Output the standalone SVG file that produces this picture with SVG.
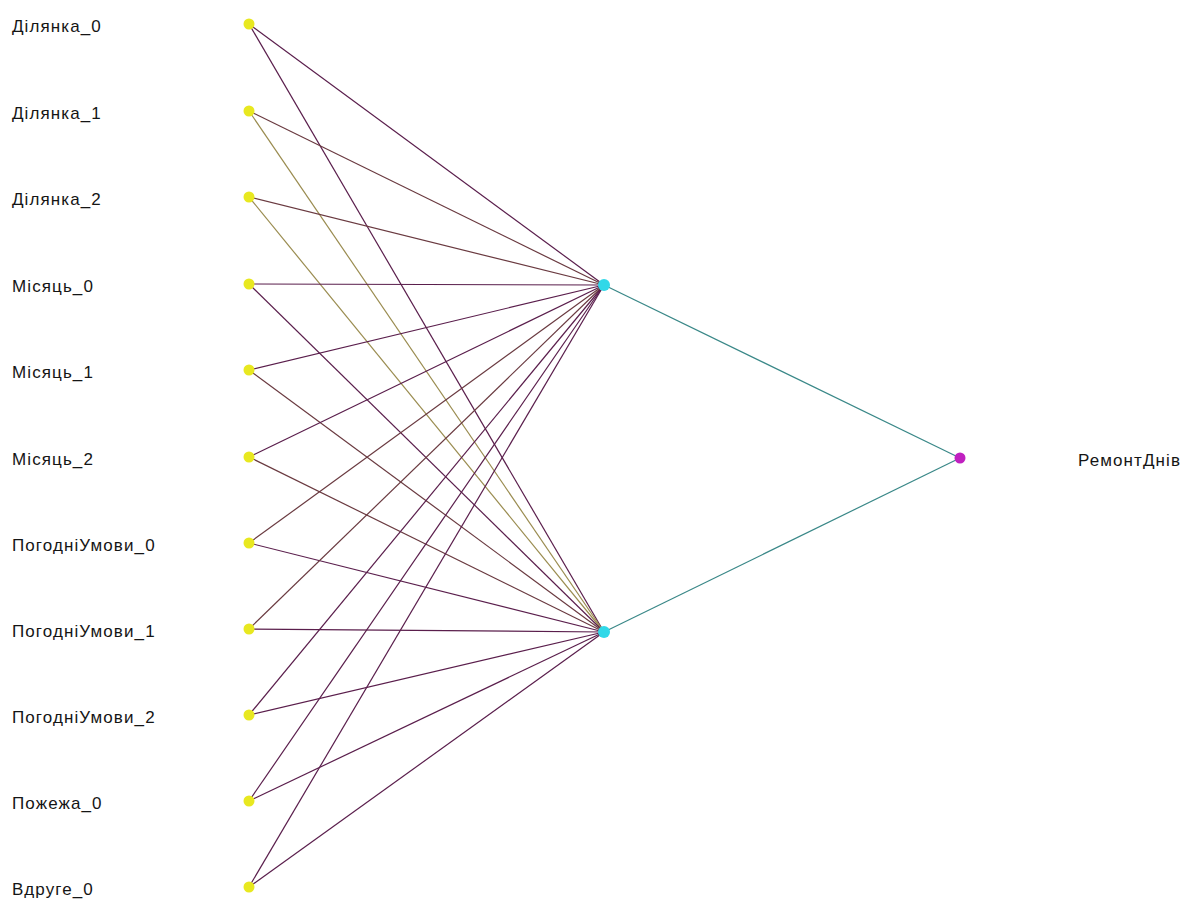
<svg xmlns="http://www.w3.org/2000/svg" width="1197" height="902" viewBox="0 0 1197 902">
<style>
text{font-family:"Liberation Sans",Arial,sans-serif;font-size:17px;letter-spacing:1.1px;fill:#151515}
.p{stroke:#5a1e4c;stroke-width:1.2}
.b{stroke:#6a3a40;stroke-width:1.2}
.o{stroke:#9a8c50;stroke-width:1.2}
.t{stroke:#3a8888;stroke-width:1.2}
.in{fill:#e8e820}
.hid{fill:#30d8e8}
.out{fill:#c020c0}
</style>
<rect width="1197" height="902" fill="#ffffff"/>
<g id="connectors" fill="none">
<line class="p" x1="249" y1="24" x2="604" y2="285"/>
<line class="p" x1="249" y1="24" x2="604" y2="632"/>
<line class="b" x1="249" y1="111" x2="604" y2="285"/>
<line class="o" x1="249" y1="111" x2="604" y2="632"/>
<line class="b" x1="249" y1="197" x2="604" y2="285"/>
<line class="o" x1="249" y1="197" x2="604" y2="632"/>
<line class="p" x1="249" y1="284" x2="604" y2="285"/>
<line class="p" x1="249" y1="284" x2="604" y2="632"/>
<line class="p" x1="249" y1="370" x2="604" y2="285"/>
<line class="b" x1="249" y1="370" x2="604" y2="632"/>
<line class="p" x1="249" y1="457" x2="604" y2="285"/>
<line class="b" x1="249" y1="457" x2="604" y2="632"/>
<line class="b" x1="249" y1="543" x2="604" y2="285"/>
<line class="p" x1="249" y1="543" x2="604" y2="632"/>
<line class="b" x1="249" y1="629" x2="604" y2="285"/>
<line class="p" x1="249" y1="629" x2="604" y2="632"/>
<line class="p" x1="249" y1="715" x2="604" y2="285"/>
<line class="p" x1="249" y1="715" x2="604" y2="632"/>
<line class="p" x1="249" y1="801" x2="604" y2="285"/>
<line class="p" x1="249" y1="801" x2="604" y2="632"/>
<line class="p" x1="249" y1="887" x2="604" y2="285"/>
<line class="p" x1="249" y1="887" x2="604" y2="632"/>
<line class="t" x1="604" y1="285" x2="960" y2="458"/>
<line class="t" x1="604" y1="632" x2="960" y2="458"/>
</g>
<g id="n_dilyanka0"><circle class="in" cx="249" cy="24" r="5.5"/><text x="12" y="32">Ділянка_0</text></g>
<g id="n_dilyanka1"><circle class="in" cx="249" cy="111" r="5.5"/><text x="12" y="119">Ділянка_1</text></g>
<g id="n_dilyanka2"><circle class="in" cx="249" cy="197" r="5.5"/><text x="12" y="205">Ділянка_2</text></g>
<g id="n_misyats0"><circle class="in" cx="249" cy="284" r="5.5"/><text x="12" y="292">Місяць_0</text></g>
<g id="n_misyats1"><circle class="in" cx="249" cy="370" r="5.5"/><text x="12" y="378">Місяць_1</text></g>
<g id="n_misyats2"><circle class="in" cx="249" cy="457" r="5.5"/><text x="12" y="465">Місяць_2</text></g>
<g id="n_pogodni0"><circle class="in" cx="249" cy="543" r="5.5"/><text x="12" y="551">ПогодніУмови_0</text></g>
<g id="n_pogodni1"><circle class="in" cx="249" cy="629" r="5.5"/><text x="12" y="637">ПогодніУмови_1</text></g>
<g id="n_pogodni2"><circle class="in" cx="249" cy="715" r="5.5"/><text x="12" y="723">ПогодніУмови_2</text></g>
<g id="n_pozhezha0"><circle class="in" cx="249" cy="801" r="5.5"/><text x="12" y="809">Пожежа_0</text></g>
<g id="n_vdruge0"><circle class="in" cx="249" cy="887" r="5.5"/><text x="12" y="895">Вдруге_0</text></g>
<g id="n_hidden1"><circle class="hid" cx="604" cy="285" r="6"/></g>
<g id="n_hidden2"><circle class="hid" cx="604" cy="632" r="6"/></g>
<g id="n_output"><circle class="out" cx="960" cy="458" r="5.5"/><text x="1078" y="466">РемонтДнів</text></g>
</svg>
